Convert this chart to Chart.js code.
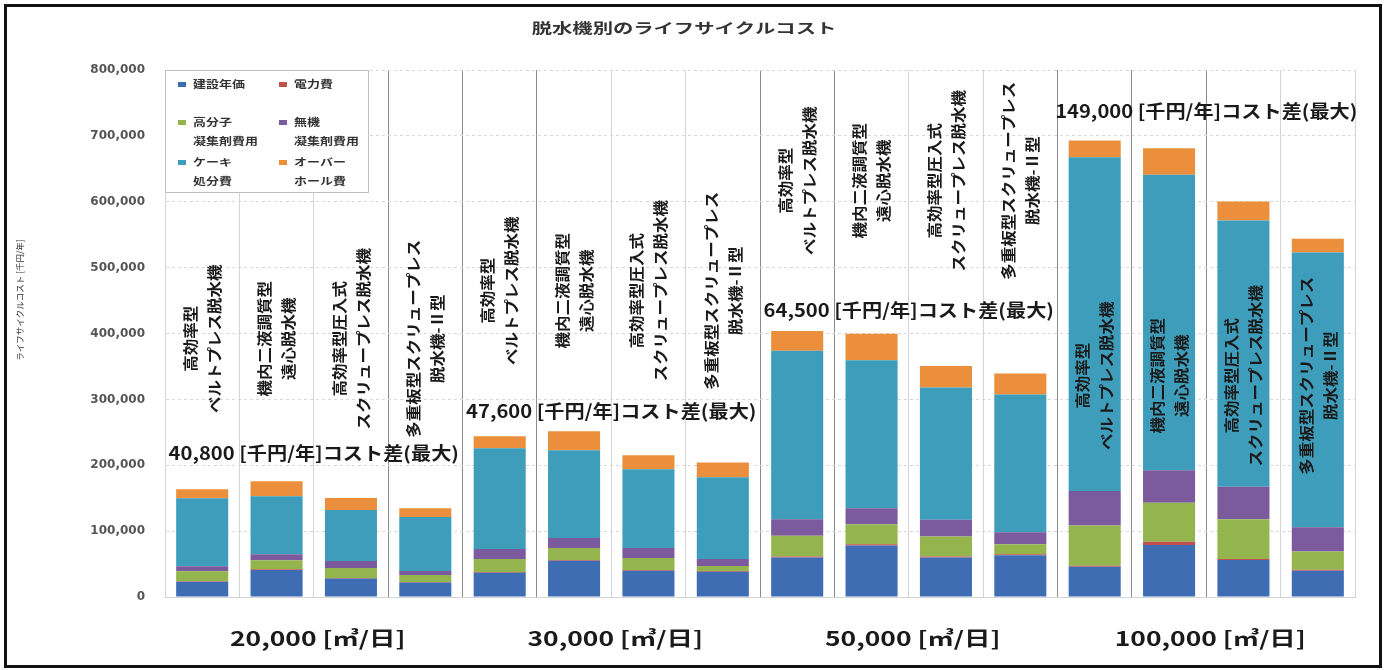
<!DOCTYPE html>
<html>
<head>
<meta charset="utf-8">
<script src="https://cdn.jsdelivr.net/npm/chart.js@4.4.1/dist/chart.umd.min.js"></script>
<style>
html, body { margin: 0; padding: 0; background: #fff; }
#wrap { position: relative; width: 1387px; height: 670px; }
#frame { position: absolute; left: 4px; top: 4px; width: 1378px; height: 664px; box-sizing: border-box; border: 3px solid #111; pointer-events: none; }
canvas { position: absolute; left: 0; top: 0; }
</style>
</head>
<body>
<div id="wrap">
  <canvas id="lcc" width="1387" height="670"></canvas>
  <div id="frame"></div>
</div>
<script>
// 処理水量ごとのグループと脱水機の種類
const flowLabels = ['20,000 [㎥/日]', '30,000 [㎥/日]', '50,000 [㎥/日]', '100,000 [㎥/日]'];
const machineTypes = [
  '高効率型\nベルトプレス脱水機',
  '機内二液調質型\n遠心脱水機',
  '高効率型圧入式\nスクリュープレス脱水機',
  '多重板型スクリュープレス\n脱水機-Ⅱ型'
];
const categories = flowLabels.flatMap(() => machineTypes);
const costDiffLabels = [
  '40,800 [千円/年]コスト差(最大)',
  '47,600 [千円/年]コスト差(最大)',
  '64,500 [千円/年]コスト差(最大)',
  '149,000 [千円/年]コスト差(最大)'
];

// 費目 (凡例の改行は \n)
const seriesNames = ['建設年価', '電力費', '高分子\n凝集剤費用', '無機\n凝集剤費用', 'ケーキ\n処分費', 'オーバー\nホール費'];
const seriesColors = ['#3f6db3', '#c0504d', '#94b54e', '#7b5a9e', '#3e9dba', '#eb8f3c'];

// [千円/年]
const construction = [23000, 41000, 28000, 22000, 37000, 55000, 40000, 38500, 60000, 78000, 60000, 63500, 46000, 78800, 56000, 40000];
const power        = [1000, 1200, 1000, 800, 1000, 1200, 1000, 1000, 1500, 2000, 1500, 1500, 1500, 5000, 1500, 1200];
const polymer      = [15200, 13600, 15100, 10600, 19700, 18200, 18200, 7600, 31400, 30300, 30400, 15100, 61000, 59100, 60600, 27700];
const inorganic    = [7600, 9100, 10600, 6100, 15100, 15200, 15100, 10600, 25300, 24300, 25300, 18200, 52600, 49500, 49400, 37000];
const cakeDisposal = [103000, 88000, 77300, 81800, 153000, 133300, 119700, 124200, 255500, 224700, 201000, 209100, 506500, 448400, 404100, 417100];
const overhaul     = [13600, 22700, 18200, 13500, 18200, 28800, 21200, 22200, 30200, 40400, 32300, 32000, 25300, 40500, 28700, 20900];
const seriesValues = [construction, power, polymer, inorganic, cakeDisposal, overhaul];

const yMax = 800000;
const yStep = 100000;

// ラベルを置く高さ (軸の値で指定)
const machineLabelLevel = [392000, 465000, 632000, 336000];
const diffLabelLevel = [218000, 282000, 435000, 738000];
const darkGridLines = [3, 4, 5, 8, 9, 12, 13, 14];

const JP = '"Noto Sans CJK JP", "Noto Sans", sans-serif';

function drawText(ctx, text, x, y, font, sx, align, rot) {
  ctx.save();
  ctx.font = font;
  ctx.textAlign = align || 'center';
  ctx.textBaseline = 'middle';
  ctx.translate(x, y);
  if (rot) ctx.rotate(rot);
  ctx.scale(sx, 1);
  ctx.fillText(text, 0, 0);
  ctx.restore();
}

const overlay = {
  id: 'overlay',
  afterDatasetsDraw(chart) {
    const ctx = chart.ctx;
    const xs = chart.scales.x, ys = chart.scales.y;
    ctx.fillStyle = '#1a1a1a';

    // 脱水機名 (縦書き)
    categories.forEach((name, i) => {
      const g = Math.floor(i / 4);
      const x = xs.getPixelForValue(i);
      const y = ys.getPixelForValue(machineLabelLevel[g]);
      const lines = name.split('\n');
      const lh = 24;
      ctx.save();
      ctx.translate(x, y);
      ctx.rotate(-Math.PI / 2);
      lines.forEach((t, k) => {
        drawText(ctx, t, 0, (k - (lines.length - 1) / 2) * lh, 'bold 15px ' + JP, 1.1);
      });
      ctx.restore();
    });

    // コスト差
    costDiffLabels.forEach((t, g) => {
      const x = (xs.getPixelForValue(g * 4) + xs.getPixelForValue(g * 4 + 3)) / 2;
      const y = ys.getPixelForValue(diffLabelLevel[g]);
      drawText(ctx, t, x, y, 'bold 18px ' + JP, 1.12);
    });
  },
  afterDraw(chart) {
    const ctx = chart.ctx;
    const xs = chart.scales.x;
    const area = chart.chartArea;

    ctx.fillStyle = '#333';
    drawText(ctx, '脱水機別のライフサイクルコスト', 684, 28, 'bold 14px ' + JP, 1.45);

    drawText(ctx, 'ライフサイクルコスト [千円/年]', 20, 300, '8.5px ' + JP, 1.0, 'center', -Math.PI / 2);

    ctx.fillStyle = '#1a1a1a';
    flowLabels.forEach((t, g) => {
      const x = (xs.getPixelForValue(g * 4) + xs.getPixelForValue(g * 4 + 3)) / 2;
      drawText(ctx, t, x + 4, 638, 'bold 20px ' + JP, 1.32);
    });

    // 凡例
    const lx = area.left, ly = area.top;
    ctx.save();
    ctx.fillStyle = '#fff';
    ctx.fillRect(lx, ly, 203, 122);
    ctx.strokeStyle = '#bfbfbf';
    ctx.lineWidth = 1;
    ctx.strokeRect(lx + 0.5, ly + 0.5, 203, 122);
    const colX = [13, 114];
    const rowY = [14, 52, 92];
    seriesNames.forEach((name, i) => {
      const cx = lx + colX[i % 2];
      const cy = ly + rowY[Math.floor(i / 2)];
      ctx.fillStyle = seriesColors[i];
      ctx.fillRect(cx, cy - 2, 8, 5);
      ctx.fillStyle = '#333';
      name.split('\n').forEach((t, k) => {
        drawText(ctx, t, cx + 15, cy + k * 19, 'bold 10px ' + JP, 1.3, 'left');
      });
    });
    ctx.restore();
  }
};

new Chart(document.getElementById('lcc'), {
  type: 'bar',
  data: {
    labels: categories,
    datasets: seriesNames.map((name, i) => ({
      label: name.replace('\n', ''),
      data: seriesValues[i],
      backgroundColor: seriesColors[i],
      borderWidth: 0,
      categoryPercentage: 1.0,
      barPercentage: 0.7
    }))
  },
  options: {
    responsive: false,
    animation: false,
    layout: { padding: { top: 70, right: 32, left: 0, bottom: 0 } },
    plugins: { legend: { display: false }, title: { display: false }, tooltip: { enabled: false } },
    scales: {
      x: {
        stacked: true,
        offset: true,
        ticks: { display: false },
        grid: {
          offset: true,
          drawTicks: false,
          color: c => darkGridLines.includes(c.index) ? '#8c8c8c' : '#d4d4d4'
        },
        border: { display: true, color: '#d4d4d4' },
        afterFit: s => { s.height = 73; }
      },
      y: {
        stacked: true,
        min: 0,
        max: yMax,
        ticks: {
          stepSize: yStep,
          padding: 20,
          color: '#555',
          font: { family: 'DejaVu Sans', size: 12, weight: 'bold' },
          callback: v => v.toLocaleString('en-US')
        },
        grid: { color: '#d9d9d9', drawTicks: false },
        border: { display: true, color: '#d4d4d4', dash: [3, 3] },
        afterFit: s => { s.width = 165; }
      }
    }
  },
  plugins: [overlay]
});
</script>
</body>
</html>
